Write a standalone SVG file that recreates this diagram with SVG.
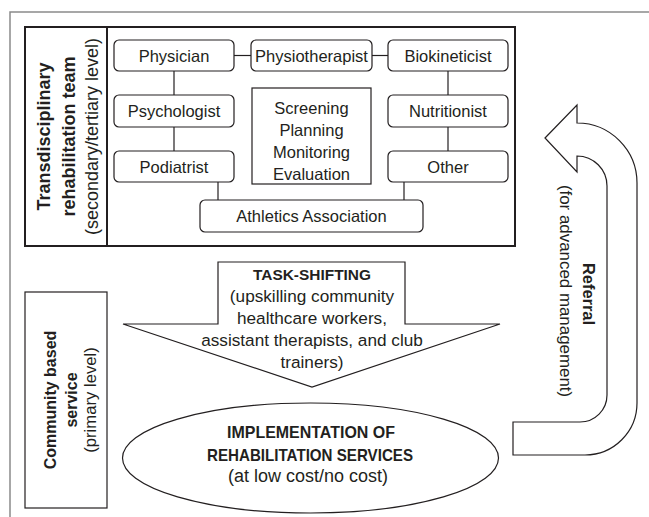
<svg xmlns="http://www.w3.org/2000/svg" width="649" height="517" viewBox="0 0 649 517">
  <style>
    text { font-family: "Liberation Sans", Arial, sans-serif; fill: #231f20; }
    .node { fill: #ffffff; stroke: #231f20; stroke-width: 1.2; }
    .lbl { font-size: 16.5px; text-anchor: middle; }
    .wire { stroke: #231f20; stroke-width: 1.2; fill: none; }
    .thick { fill: #ffffff; stroke: #231f20; stroke-width: 2; }
    .thin { fill: #ffffff; stroke: #231f20; stroke-width: 1.2; }
    .b { font-weight: bold; }
    .mid { text-anchor: middle; }
  </style>

  <rect width="649" height="517" fill="#ffffff"/>

  <!-- page frame (top and left rules only) -->
  <path d="M10 517 V12 H649" fill="none" stroke="#8a8a8a" stroke-width="1.5"/>

  <!-- secondary / tertiary level panel -->
  <g id="team-panel">
    <rect class="thick" x="25" y="27" width="490" height="219"/>
    <line x1="107" y1="27" x2="107" y2="246" stroke="#231f20" stroke-width="2"/>
    <text class="mid b" font-size="18" transform="translate(50,136.5) rotate(-90)">Transdisciplinary</text>
    <text class="mid b" font-size="18" transform="translate(75,136.5) rotate(-90)">rehabilitation team</text>
    <text class="mid" font-size="18" transform="translate(98,136.5) rotate(-90)">(secondary/tertiary level)</text>
  </g>

  <!-- links between team members -->
  <g id="connectors">
    <line class="wire" x1="234" y1="55.5" x2="251" y2="55.5"/>
    <line class="wire" x1="372" y1="55.5" x2="388" y2="55.5"/>
    <line class="wire" x1="174" y1="71" x2="174" y2="95"/>
    <line class="wire" x1="174" y1="127" x2="174" y2="151"/>
    <line class="wire" x1="218" y1="182" x2="218" y2="200"/>
    <line class="wire" x1="448" y1="71" x2="448" y2="95"/>
    <line class="wire" x1="448" y1="127" x2="448" y2="151"/>
    <line class="wire" x1="404" y1="182" x2="404" y2="200"/>
  </g>

  <g id="physician">
    <rect class="node" x="114" y="40" width="120" height="31" rx="5"/>
    <text class="lbl" x="174" y="61.5">Physician</text>
  </g>
  <g id="physiotherapist">
    <rect class="node" x="251" y="40" width="121" height="31" rx="5"/>
    <text class="lbl" x="311.5" y="61.5">Physiotherapist</text>
  </g>
  <g id="biokineticist">
    <rect class="node" x="388" y="40" width="120" height="31" rx="5"/>
    <text class="lbl" x="448" y="61.5">Biokineticist</text>
  </g>
  <g id="psychologist">
    <rect class="node" x="114" y="95" width="120" height="32" rx="5"/>
    <text class="lbl" x="174" y="117">Psychologist</text>
  </g>
  <g id="nutritionist">
    <rect class="node" x="388" y="95" width="120" height="32" rx="5"/>
    <text class="lbl" x="448" y="117">Nutritionist</text>
  </g>
  <g id="podiatrist">
    <rect class="node" x="114" y="151" width="120" height="31" rx="5"/>
    <text class="lbl" x="174" y="172.5">Podiatrist</text>
  </g>
  <g id="other">
    <rect class="node" x="388" y="151" width="120" height="31" rx="5"/>
    <text class="lbl" x="448" y="172.5">Other</text>
  </g>
  <g id="athletics-association">
    <rect class="node" x="200" y="200" width="223" height="32" rx="5"/>
    <text class="lbl" x="311.5" y="222">Athletics Association</text>
  </g>
  <g id="activities">
    <rect class="thin" x="252" y="88" width="119" height="96"/>
    <text class="lbl" x="311.5" y="114">Screening</text>
    <text class="lbl" x="311.5" y="136">Planning</text>
    <text class="lbl" x="311.5" y="158">Monitoring</text>
    <text class="lbl" x="311.5" y="180">Evaluation</text>
  </g>

  <!-- primary level panel -->
  <g id="community-panel">
    <rect class="thin" x="25" y="292" width="82" height="216"/>
    <text class="mid b" font-size="16" transform="translate(56,400) rotate(-90)">Community based</text>
    <text class="mid b" font-size="16" transform="translate(77,400) rotate(-90)">service</text>
    <text class="mid" font-size="16.7" transform="translate(96,400) rotate(-90)">(primary level)</text>
  </g>

  <!-- downward block arrow -->
  <g id="task-shifting">
    <path class="thin" d="M218 262 H405 V324 H500 L312 387 L123 324 H218 Z"/>
    <text class="mid b" font-size="15.5" x="312" y="280" textLength="118" lengthAdjust="spacingAndGlyphs">TASK-SHIFTING</text>
    <text class="mid" font-size="17.2" x="312" y="302">(upskilling community</text>
    <text class="mid" font-size="17.2" x="312" y="323.5">healthcare workers,</text>
    <text class="mid" font-size="17.2" x="312" y="345.5">assistant therapists, and club</text>
    <text class="mid" font-size="17.2" x="312" y="367.5">trainers)</text>
  </g>

  <g id="implementation">
    <ellipse class="thin" cx="310.5" cy="458" rx="188" ry="55"/>
    <text class="mid b" font-size="16.3" x="311" y="438" textLength="168" lengthAdjust="spacingAndGlyphs">IMPLEMENTATION OF</text>
    <text class="mid b" font-size="16.3" x="310" y="461" textLength="206" lengthAdjust="spacingAndGlyphs">REHABILITATION SERVICES</text>
    <text class="mid" font-size="18" x="308" y="482">(at low cost/no cost)</text>
  </g>

  <!-- curved return arrow -->
  <g id="referral">
    <path class="thin" d="M545 138 L577 105 V123 A60 60 0 0 1 637 183 V403 A52 52 0 0 1 585 455 H513 V422 H580 A27 27 0 0 0 607 395 V186 A30 30 0 0 0 577 156 V172 Z"/>
    <text class="mid b" font-size="16.4" transform="translate(583,294) rotate(90)">Referral</text>
    <text class="mid" font-size="16.9" transform="translate(560,291) rotate(90)">(for advanced management)</text>
  </g>
</svg>
